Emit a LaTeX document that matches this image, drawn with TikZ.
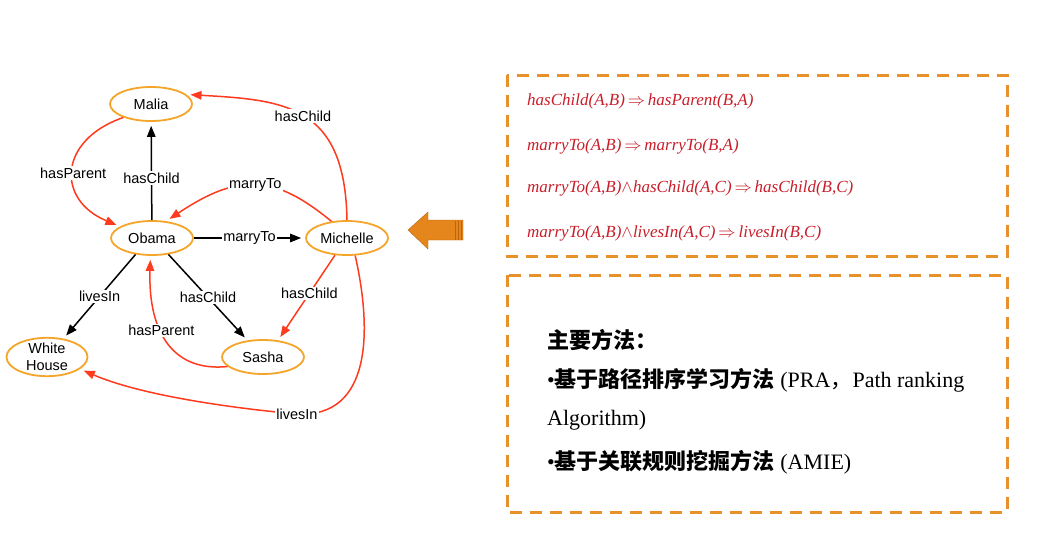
\documentclass[tikz,border=0pt]{standalone}
\usepackage{fontspec}
\setmainfont{Liberation Serif}
\newfontfamily\gfont{Liberation Sans}
\newfontfamily\cjk{Noto Sans CJK SC}
\usetikzlibrary{arrows.meta,shapes.geometric}
\definecolor{nodeorange}{HTML}{F5A52A}
\definecolor{edgered}{HTML}{FF3B1F}
\definecolor{boxorange}{HTML}{E8912B}
\definecolor{rulered}{HTML}{C81E2A}
\definecolor{arroworange}{HTML}{E4861C}
\definecolor{arrowdark}{HTML}{B8650F}
\newcommand{\imp}{\,$\Rightarrow$\,}
\newcommand{\conj}{$\land$}
\begin{document}
\begin{tikzpicture}[x=1pt,y=1pt,
  ent/.style={ellipse, draw=nodeorange, line width=1.8pt, fill=white,
    minimum width=82pt, minimum height=34pt, inner sep=0pt, align=center,
    font=\gfont\fontsize{14.5}{16.5}\selectfont},
  blk/.style={draw=black, line width=1.5pt, shorten >=4pt,
    -{Triangle[length=11pt,width=8.5pt]}},
  inf/.style={draw=edgered, line width=1.5pt, shorten >=4pt,
    -{Triangle[length=11pt,width=8.5pt]}},
  lbl/.style={fill=white, inner sep=1.5pt, font=\gfont\fontsize{14.5}{16}\selectfont},
  rule/.style={anchor=west, text=rulered, inner sep=0pt, font=\itshape\fontsize{17}{20}\selectfont},
  dbox/.style={draw=boxorange, line width=3pt, dash pattern=on 12pt off 8pt},
  txt/.style={anchor=west, inner sep=0pt, font=\fontsize{22}{26}\selectfont}]
\useasboundingbox (0,0) rectangle (1038,-543);

% entities
\node[ent] (malia) at (151,-104) {Malia};
\node[ent] (obama) at (152,-238) {Obama};
\node[ent] (michelle) at (347,-238) {Michelle};
\node[ent, minimum width=81pt, minimum height=35pt] (wh) at (47,-357) {White\\House};
\node[ent] (sasha) at (263,-357) {Sasha};

% black (known) edges
\draw[blk] (obama) -- node[lbl,pos=0.43]{hasChild} (malia);
\draw[blk] (obama) -- node[lbl]{marryTo} (michelle);
\draw[blk] (obama.225) -- node[lbl]{livesIn} (wh.48);
\draw[blk] (obama.-45) -- node[lbl]{hasChild} (sasha.133);

% red (inferred) edges
\draw[inf] (malia.206) .. controls (58,-140) and (56,-200) .. node[lbl,pos=0.52]{hasParent} (obama.160);
\draw[inf] (michelle.133) .. controls (275,-175) and (240,-172) .. node[lbl,pos=0.5]{marryTo} (obama.50);
\draw[inf] (michelle.north) .. controls (345,-105) and (285,-100) .. node[lbl,pos=0.5]{hasChild} (malia.15);
\draw[inf] (michelle.235) -- node[lbl,pos=0.45]{hasChild} (sasha.48);
\draw[inf] (sasha.195) .. controls (175,-372) and (148,-335) .. node[lbl,pos=0.6]{hasParent} (obama.265);
\coordinate (lv) at (297,-414);
\draw[inf] (michelle.-65) .. controls (372,-330) and (372,-418) .. (lv)
  .. controls (230,-408) and (140,-395) .. (wh.-20);
\node[lbl] (lvlabel) at (lv) {livesIn};

% block arrow
\fill[arroworange, draw=arrowdark, line width=0.4pt]
  (408,-230) -- (428,-212) -- (428,-220) -- (463,-220) -- (463,-240) -- (428,-240) -- (428,-249) -- cycle;
\foreach \xx in {455,458,461} \draw[arrowdark, line width=0.8pt] (\xx,-220.5) -- (\xx,-239.5);

% rule box
\draw[dbox] (507,-75) rectangle (1007,-256);
\node[rule] (r1) at (527,-101) {hasChild(A,B)\imp hasParent(B,A)};
\node[rule] (r2) at (527,-146) {marryTo(A,B)\imp marryTo(B,A)};
\node[rule] (r3) at (527,-188) {marryTo(A,B)\conj hasChild(A,C)\imp hasChild(B,C)};
\node[rule] (r4) at (527,-233) {marryTo(A,B)\conj livesIn(A,C)\imp livesIn(B,C)};

% methods box
\draw[dbox] (507,-275) rectangle (1007,-512);
\node[txt] (m0) at (547,-340) {\cjk\bfseries 主要方法：};
\node[txt] (m1) at (547,-380) {•{\cjk\bfseries 基于路径排序学习方法} (PRA{\cjk ，}Path ranking};
\node[txt] (m2) at (547,-420) {Algorithm)};
\node[txt] (m3) at (547,-462) {•{\cjk\bfseries 基于关联规则挖掘方法} (AMIE)};
\end{tikzpicture}
\end{document}
